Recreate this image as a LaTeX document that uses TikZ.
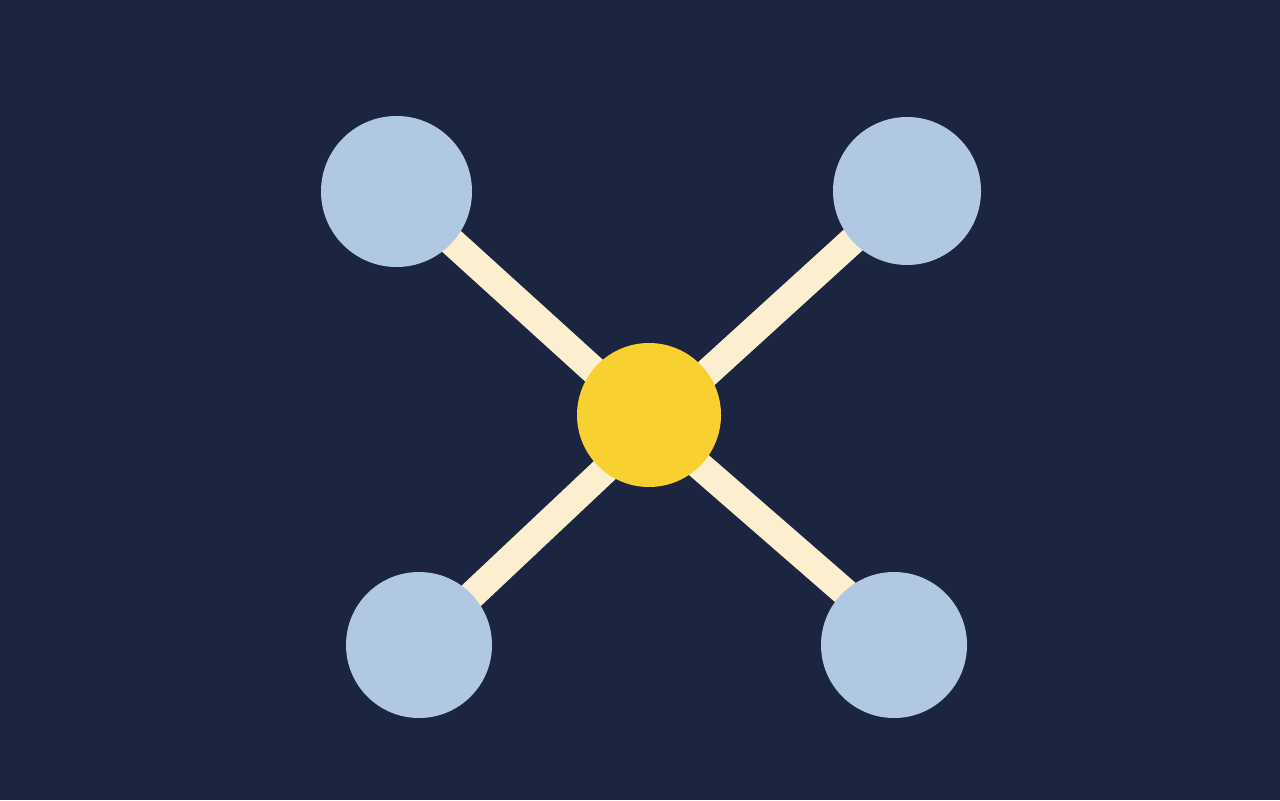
\documentclass[tikz,border=0pt]{standalone}

\pgfdeclarelayer{backdrop}
\pgfdeclarelayer{spokes}
\pgfsetlayers{backdrop,spokes,main}

\tikzstyle{hub-point}=[circle, inner sep=0pt, minimum size=1.44cm, fill={hubfill}]
\tikzstyle{leaf-point}=[circle, inner sep=0pt, fill={leaffill}]
\tikzstyle{spoke}=[draw={spokefill}, line width=0.28cm, shorten <=-0.15cm, shorten >=-0.15cm]
\definecolor{backfill}{HTML}{1b2540}
\definecolor{hubfill}{HTML}{f8d030}
\definecolor{leaffill}{HTML}{b0c8e2}
\definecolor{spokefill}{HTML}{fbefcf}

\begin{document}
\begin{tikzpicture}
       \begin{pgfonlayer}{backdrop}
             \fill[backfill] (0, 0) rectangle (12.8, -8);
       \end{pgfonlayer}
       \useasboundingbox (0, 0) rectangle (12.8, -8);
       \node (hub) at (6.49, -4.15) [hub-point] {};
       \node (leafTL) at (3.965, -1.915) [leaf-point, minimum size=1.51cm] {};
       \node (leafTR) at (9.07, -1.91) [leaf-point, minimum size=1.48cm] {};
       \node (leafBL) at (4.19, -6.45) [leaf-point, minimum size=1.46cm] {};
       \node (leafBR) at (8.94, -6.45) [leaf-point, minimum size=1.46cm] {};
       \begin{pgfonlayer}{spokes}
             \draw[spoke] (hub.141) -- (leafTL);
             \draw[spoke] (hub.36) -- (leafTR);
             \draw[spoke] (hub.231) -- (leafBL);
             \draw[spoke] (hub.315) -- (leafBR.133);
       \end{pgfonlayer}
\end{tikzpicture}
\end{document}
